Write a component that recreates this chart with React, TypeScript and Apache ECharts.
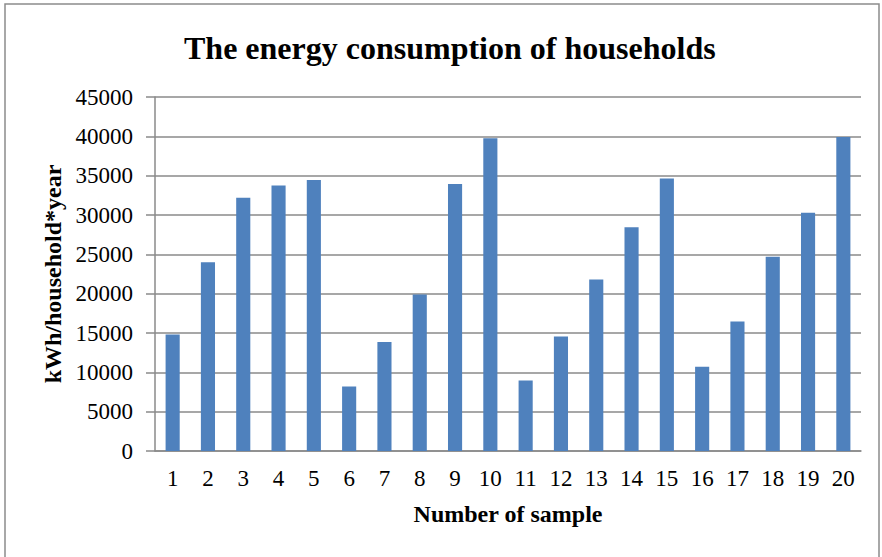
import React, { useEffect, useRef } from "react";
import * as echarts from "echarts";

const categories = ["1","2","3","4","5","6","7","8","9","10","11","12","13","14","15","16","17","18","19","20"];
const consumption = [14800, 24000, 32200, 33750, 34450, 8200, 13850, 19900, 33950, 39750, 8950, 14550, 21800, 28450, 34650, 10700, 16450, 24700, 30300, 39900];
const titleText = "The energy consumption of households";
const xName = "Number of sample";
const yName = "kWh/household*year";

const FONT = "'Liberation Serif', 'Times New Roman', serif";

export default function App() {
  const ref = useRef<HTMLDivElement>(null);
  useEffect(() => {
    if (!ref.current) return;
    const chart = echarts.init(ref.current, undefined, { renderer: "svg" });
    const gridColor = "#8a8a8a";
    chart.setOption({
      animation: false,
      backgroundColor: "#ffffff",
      title: {
        text: titleText,
        left: 179,
        top: 27,
        textStyle: { fontFamily: FONT, fontSize: 32, fontWeight: "bold", color: "#000" },
      },
      graphic: [
        {
          type: "rect",
          shape: { x: 5, y: 4, width: 874, height: 570 },
          style: { fill: "none", stroke: "#8c8c8c", lineWidth: 1.5 },
          silent: true,
        },
      ],
      grid: { left: 155, right: 21, top: 97, bottom: 106, containLabel: false },
      xAxis: {
        type: "category",
        data: categories,
        name: xName,
        nameLocation: "middle",
        nameGap: 51,
        nameTextStyle: { fontFamily: FONT, fontSize: 24, fontWeight: "bold", color: "#000" },
        axisLine: { lineStyle: { color: gridColor, width: 1.5 } },
        axisTick: { show: false },
        axisLabel: { fontFamily: FONT, fontSize: 23, color: "#000", margin: 16, interval: 0 },
      },
      yAxis: {
        type: "value",
        min: 0,
        max: 45000,
        interval: 5000,
        name: yName,
        nameLocation: "middle",
        nameGap: 88,
        nameTextStyle: { fontFamily: FONT, fontSize: 24, fontWeight: "bold", color: "#000" },
        axisLine: { show: true, lineStyle: { color: gridColor, width: 1.5 } },
        axisTick: { show: true, length: 9, lineStyle: { color: gridColor, width: 1.5 } },
        axisLabel: {
          fontFamily: FONT,
          fontSize: 23,
          color: "#000",
          margin: 22,
          formatter: (v: number) => String(v),
        },
        splitLine: { lineStyle: { color: gridColor, width: 1.5 } },
      },
      series: [
        {
          type: "bar",
          data: consumption,
          barWidth: "40%",
          itemStyle: { color: "#4F81BD" },
        },
      ],
    });
    return () => chart.dispose();
  }, []);
  return <div ref={ref} style={{ position: "fixed", left: 0, top: 0, width: 882, height: 557 }} />;
}
